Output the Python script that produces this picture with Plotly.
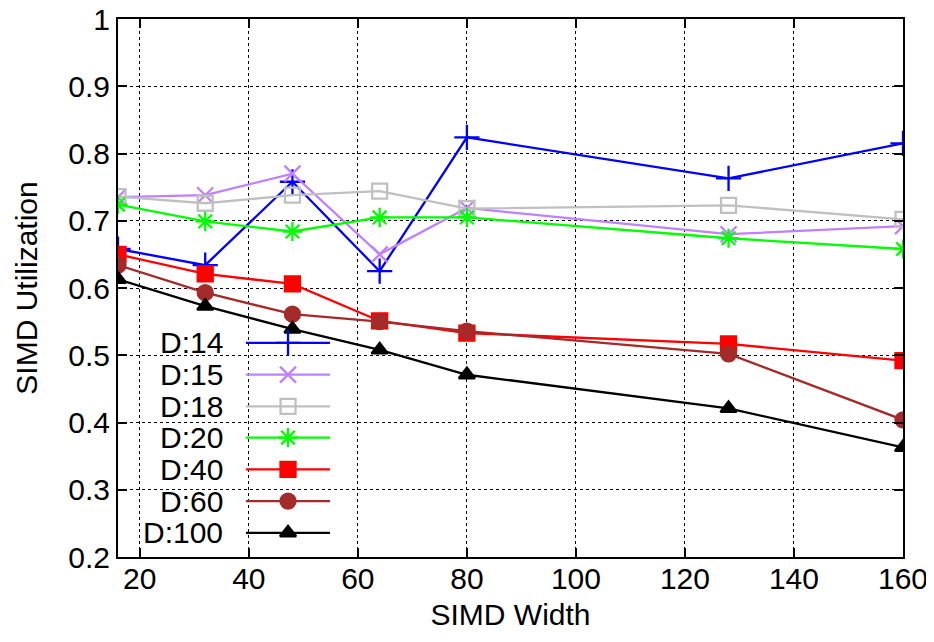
import plotly.graph_objects as go

simd_width = [16, 32, 48, 64, 80, 128, 160]

series_names = ["D:14", "D:15", "D:18", "D:20", "D:40", "D:60", "D:100"]
d14 = [0.658, 0.634, 0.758, 0.625, 0.824, 0.763, 0.815]
d15 = [0.735, 0.738, 0.770, 0.650, 0.719, 0.680, 0.692]
d18 = [0.736, 0.726, 0.738, 0.744, 0.718, 0.723, 0.702]
d20 = [0.724, 0.699, 0.684, 0.705, 0.705, 0.674, 0.658]
d40 = [0.650, 0.621, 0.606, 0.551, 0.533, 0.517, 0.492]
d60 = [0.634, 0.593, 0.561, 0.550, 0.536, 0.502, 0.404]
d100 = [0.613, 0.573, 0.539, 0.508, 0.471, 0.421, 0.363]
all_values = [d14, d15, d18, d20, d40, d60, d100]

colors = ["#0000ff", "#c080ff", "#c0c0c0", "#00ff00", "#ff0000", "#a52a2a", "#000000"]
symbols = ["cross-thin-open", "x-thin-open", "square-open", "asterisk-open",
           "square", "circle", "triangle-up"]
sizes = [18, 16, 15, 16, 15, 15, 14]

x_ticks = [20, 40, 60, 80, 100, 120, 140, 160]
y_ticks = [0.2, 0.3, 0.4, 0.5, 0.6, 0.7, 0.8, 0.9, 1.0]
y_tick_text = ["0.2", "0.3", "0.4", "0.5", "0.6", "0.7", "0.8", "0.9", "1"]

FONT = "Liberation Sans, Arial, Helvetica, sans-serif"
FS = 30

fig = go.Figure()

for name, vals, c, s, sz in zip(series_names, all_values, colors, symbols, sizes):
    fig.add_trace(go.Scatter(
        x=simd_width, y=vals, mode="lines+markers", name=name,
        line=dict(color=c, width=2.3),
        marker=dict(symbol=s, size=sz, color=c, line=dict(color=c, width=2.3)),
        showlegend=False,
    ))

# gnuplot-style key: labels on the left, sample on the right
legend_rows = [0.398, 0.339, 0.280, 0.222, 0.163, 0.104, 0.045]
for name, c, s, sz, yr in zip(series_names, colors, symbols, sizes, legend_rows):
    fig.add_trace(go.Scatter(
        x=[0.163, 0.2166, 0.270], y=[yr, yr, yr], mode="lines",
        line=dict(color=c, width=2.3), xaxis="x2", yaxis="y2",
        showlegend=False, hoverinfo="skip",
    ))
    fig.add_trace(go.Scatter(
        x=[0.2166], y=[yr], mode="markers",
        marker=dict(symbol=s, size=sz, color=c, line=dict(color=c, width=2.3)),
        xaxis="x2", yaxis="y2", showlegend=False, hoverinfo="skip",
    ))
    fig.add_annotation(
        x=0.136, y=yr, xref="paper", yref="paper", text=name, showarrow=False,
        xanchor="right", yanchor="middle", font=dict(family=FONT, size=FS, color="black"),
    )

# opaque key box hiding the grid
fig.add_shape(type="rect", xref="paper", yref="paper", x0=0.002, x1=0.289, y0=0.002, y1=0.43,
              fillcolor="white", line=dict(width=0), layer="between")

axis_common = dict(
    showline=True, linecolor="black", linewidth=2, mirror="ticks",
    ticks="inside", ticklen=9, tickwidth=1.5, tickcolor="black",
    showgrid=True, gridcolor="black", griddash="dot", gridwidth=1,
    zeroline=False, automargin=False, ticklabeloverflow="allow",
    tickfont=dict(family=FONT, size=FS, color="black"),
)

# the page body adds an 8px offset, so the figure is 8px smaller
fig.update_layout(
    width=926, height=634,
    margin=dict(l=110, r=31, t=11, b=85, autoexpand=False),
    plot_bgcolor="white", paper_bgcolor="white",
    font=dict(family=FONT, size=FS, color="black"),
    xaxis=dict(range=[16, 160], tickvals=x_ticks, ticktext=[str(v) for v in x_ticks],
               ticklabelstandoff=-6,
               title=dict(text="SIMD Width", font=dict(family=FONT, size=FS), standoff=10),
               **axis_common),
    yaxis=dict(range=[0.2, 1.0], tickvals=y_ticks, ticktext=y_tick_text,
               title=dict(text="SIMD Utilization", font=dict(family=FONT, size=FS), standoff=22),
               **axis_common),
    xaxis2=dict(range=[0, 1], overlaying="x", visible=False, fixedrange=True),
    yaxis2=dict(range=[0, 1], overlaying="y", visible=False, fixedrange=True),
    showlegend=False,
)

fig.write_html("out.html")
